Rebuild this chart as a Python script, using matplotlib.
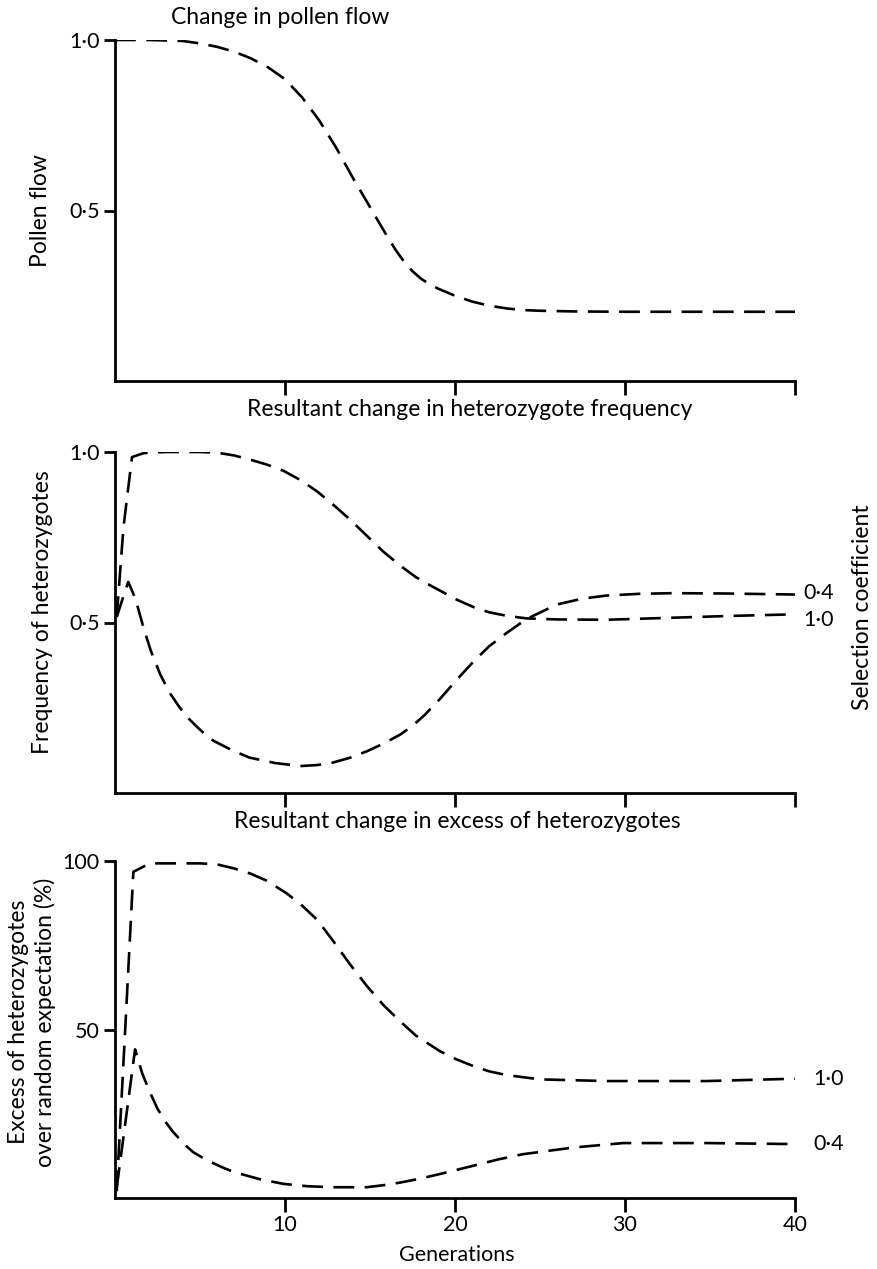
import matplotlib
matplotlib.use("Agg")
import matplotlib.pyplot as plt

plt.rcParams['font.family'] = ['Lato', 'DejaVu Sans']
plt.rcParams['lines.scale_dashes'] = False

# ---------------- data ----------------
# Panel 1: pollen flow
gen_pollen = [0, 2, 4, 5, 6, 7, 8, 9, 10, 11, 12, 13, 14, 15, 16, 16.5, 17, 17.5, 18,
              18.5, 19, 20, 21, 22, 23, 24, 25, 27, 30, 35, 40]
pollen_flow = [1.0, 1.0, 0.997, 0.99, 0.98, 0.966, 0.946, 0.92, 0.885, 0.832, 0.765,
               0.685, 0.595, 0.51, 0.425, 0.385, 0.35, 0.322, 0.3, 0.284, 0.271,
               0.25, 0.233, 0.221, 0.213, 0.208, 0.206, 0.204, 0.203, 0.203, 0.203]

# Panel 2: frequency of heterozygotes
gen_freq_s10 = [0.1, 0.5, 1.0, 1.7, 3, 5, 6, 7, 8, 9, 9.9, 10.9, 11.9, 12.8, 13.8, 14.8,
                15.8, 16.8, 17.7, 18.5, 19.1, 20.1, 21.1, 22, 23, 24.2, 26, 28.9, 32.8,
                36, 40]
freq_s10 = [0.516, 0.78, 0.985, 0.997, 1.0, 1.0, 0.998, 0.99, 0.977, 0.962, 0.945,
            0.918, 0.884, 0.847, 0.803, 0.755, 0.707, 0.666, 0.633, 0.61, 0.594, 0.567,
            0.545, 0.53, 0.52, 0.512, 0.509, 0.508, 0.514, 0.519, 0.524]
gen_freq_s04 = [0.1, 0.45, 0.78, 1.2, 1.67, 2.1, 2.65, 3.2, 3.8, 4.3, 4.8, 5.3, 5.8, 6.9,
                7.9, 9.4, 10.9, 11.9, 12.8, 13.8, 14.8, 15.8, 16.8, 17.5, 18.2, 19.1,
                20.1, 21.1, 22, 23, 24.2, 26, 27.5, 28.9, 30.8, 32.8, 36, 40]
freq_s04 = [0.516, 0.57, 0.619, 0.57, 0.486, 0.418, 0.349, 0.295, 0.251, 0.22, 0.195,
            0.172, 0.153, 0.125, 0.104, 0.088, 0.079, 0.082, 0.089, 0.103, 0.122, 0.145,
            0.172, 0.197, 0.228, 0.275, 0.332, 0.386, 0.43, 0.468, 0.51, 0.553, 0.57,
            0.579, 0.584, 0.586, 0.585, 0.582]

# Panel 3: excess of heterozygotes (%)
gen_exc_s10 = [0.1, 0.6, 1.08, 2.06, 5, 6, 7, 8, 8.9, 10.1, 11.0, 11.9, 12.8, 13.8, 14.8,
               15.8, 16.8, 17.7, 19.1, 20.1, 21.1, 22, 23, 25, 28.9, 34.8, 40]
exc_s10 = [2.0, 50, 96.8, 99.3, 99.3, 99, 97.8, 96.2, 94.2, 90.4, 86.8, 82.5, 76.5,
           69.5, 63, 57.2, 52.3, 48.2, 43.6, 41.1, 39.1, 37.6, 36.5, 35.2, 34.7, 34.7,
           35.4]
gen_exc_s04 = [0.1, 0.6, 1.18, 1.6, 2.06, 2.5, 3.0, 3.4, 3.8, 4.2, 4.6, 5.2, 5.8, 6.4,
               7.0, 8.5, 9.9, 11.3, 12.8, 14.8, 15.8, 16.8, 18, 19.1, 21.1, 22.5, 24.0,
               27.0, 29.9, 34.8, 40]
exc_s04 = [3.0, 22, 44.1, 37, 31.3, 26.5, 22.4, 19.7, 17.5, 15.4, 13.6, 11.8, 10.3, 8.9,
           7.7, 5.6, 4.2, 3.5, 3.2, 3.2, 3.8, 4.6, 5.8, 7.1, 9.6, 11.4, 13.0, 15.0,
           16.3, 16.3, 16.0]

x_ticks = [10, 20, 30, 40]
x_ticklabels = ['10', '20', '30', '40']

# ---------------- figure ----------------
W, H = 878, 1269
fig = plt.figure(figsize=(W / 100, H / 100), dpi=100)

def fx(px):
    return px / W

def fy(py):
    return 1 - py / H

def make_axes(top, bottom):
    ax = fig.add_axes([fx(115), fy(bottom), fx(795) - fx(115), fy(top) - fy(bottom)])
    for s in ['top', 'right']:
        ax.spines[s].set_visible(False)
    for s in ['left', 'bottom']:
        ax.spines[s].set_linewidth(2.0)
    ax.set_xlim(0, 40)
    ax.set_xticks(x_ticks)
    ax.tick_params(axis='x', length=10, width=2, direction='out', pad=2, labelsize=15.5)
    ax.tick_params(axis='y', length=8, width=2, direction='out', pad=3, labelsize=15.5)
    return ax

dash = dict(color='black', linewidth=1.9, dashes=(15, 7.5))
TXT = 16.5

# Panel 1
ax1 = make_axes(40, 381)
ax1.plot(gen_pollen, pollen_flow, **dash)
ax1.set_ylim(0, 1.0)
ax1.set_yticks([0.5, 1.0])
ax1.set_yticklabels(['0·5', '1·0'])
ax1.set_xticklabels([])
ax1.set_ylabel('Pollen flow', fontsize=TXT)
ax1.yaxis.set_label_coords((51 - 115) / 680, 0.5)
fig.text(fx(280), fy(17), 'Change in pollen flow', ha='center', va='center', fontsize=TXT)
fig.text(fx(470), fy(410), 'Resultant change in heterozygote frequency',
         ha='center', va='center', fontsize=TXT)

# Panel 2
ax2 = make_axes(452, 793)
ax2.plot(gen_freq_s10, freq_s10, **dash)
ax2.plot(gen_freq_s04, freq_s04, **dash)
ax2.set_ylim(0, 1.0)
ax2.set_yticks([0.5, 1.0])
ax2.set_yticklabels(['0·5', '1·0'])
ax2.set_xticklabels([])
ax2.set_ylabel('Frequency of heterozygotes', fontsize=TXT)
ax2.yaxis.set_label_coords((53 - 115) / 680, 0.53)
ax2.annotate('0·4', xy=(gen_freq_s04[-1], freq_s04[-1]), xytext=(6, 1),
             textcoords='offset points', va='center', ha='left', fontsize=15.5,
             annotation_clip=False)
ax2.annotate('1·0', xy=(gen_freq_s10[-1], freq_s10[-1]), xytext=(6, -4),
             textcoords='offset points', va='center', ha='left', fontsize=15.5,
             annotation_clip=False)
fig.text(fx(863), fy(607), 'Selection coefficient', rotation=90,
         ha='center', va='center', fontsize=TXT)
fig.text(fx(457), fy(822), 'Resultant change in excess of heterozygotes',
         ha='center', va='center', fontsize=TXT)

# Panel 3
ax3 = make_axes(861, 1198)
ax3.plot(gen_exc_s10, exc_s10, **dash)
ax3.plot(gen_exc_s04, exc_s04, **dash)
ax3.set_ylim(0, 100)
ax3.set_yticks([50, 100])
ax3.set_yticklabels(['50', '100'])
ax3.set_xticklabels(x_ticklabels)
ax3.annotate('1·0', xy=(gen_exc_s10[-1], exc_s10[-1]), xytext=(13, 0),
             textcoords='offset points', va='center', ha='left', fontsize=15.5,
             annotation_clip=False)
ax3.annotate('0·4', xy=(gen_exc_s04[-1], exc_s04[-1]), xytext=(13, 0),
             textcoords='offset points', va='center', ha='left', fontsize=15.5,
             annotation_clip=False)
fig.text(fx(32), fy(1022), 'Excess of heterozygotes\nover random expectation (%)',
         rotation=90, ha='center', va='center', fontsize=TXT, linespacing=1.25,
         multialignment='center')
fig.text(fx(457), fy(1255), 'Generations', ha='center', va='center', fontsize=15.5)

fig.savefig('out.png', dpi=100)
